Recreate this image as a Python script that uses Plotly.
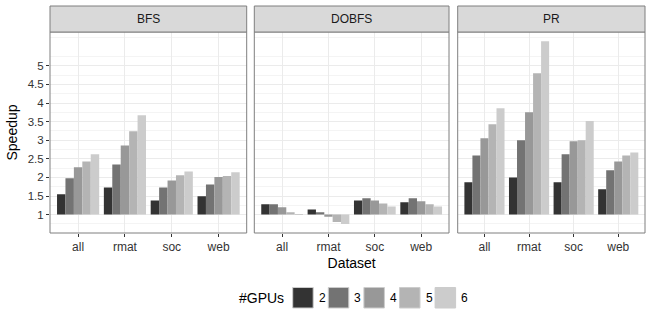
import plotly.graph_objects as go
from plotly.subplots import make_subplots

panels = ["BFS", "DOBFS", "PR"]
datasets = ["all", "rmat", "soc", "web"]
gpus = ["2", "3", "4", "5", "6"]
colors = ["#333333", "#737373", "#989898", "#B4B4B4", "#CCCCCC"]

# values per dataset (all, rmat, soc, web), one list per GPU count
bfs = [
    [1.55, 1.73, 1.38, 1.49],
    [1.98, 2.35, 1.73, 1.81],
    [2.27, 2.86, 1.92, 2.01],
    [2.43, 3.24, 2.06, 2.04],
    [2.62, 3.67, 2.16, 2.14],
]
dobfs = [
    [1.28, 1.14, 1.38, 1.33],
    [1.28, 1.06, 1.44, 1.44],
    [1.20, 0.94, 1.38, 1.36],
    [1.06, 0.80, 1.30, 1.28],
    [1.01, 0.75, 1.22, 1.22],
]
pr = [
    [1.87, 2.00, 1.87, 1.68],
    [2.59, 3.00, 2.62, 2.19],
    [3.05, 3.75, 2.97, 2.43],
    [3.43, 4.80, 3.00, 2.59],
    [3.86, 5.66, 3.52, 2.67],
]
data = [bfs, dobfs, pr]
y_ticks = [1, 1.5, 2, 2.5, 3, 3.5, 4, 4.5, 5]
y_tick_labels = ["1", "1.5", "2", "2.5", "3", "3.5", "4", "4.5", "5"]

W, H = 648, 311
ml, mr, mt, mb = 50, 3, 32, 78
pw, ph = W - ml - mr, H - mt - mb

def px_x(p):
    return (p - ml) / pw

def px_y(p):
    return (H - mb - p) / ph

domains = [[0, px_x(246.7)], [px_x(254.3), px_x(449)], [px_x(457.7), 1]]

fig = make_subplots(rows=1, cols=3, shared_yaxes=True, horizontal_spacing=0.02)

for pi, pdata in enumerate(data):
    for gi, vals in enumerate(pdata):
        fig.add_trace(
            go.Bar(
                x=datasets,
                y=[v - 1 for v in vals],
                base=1,
                marker=dict(color=colors[gi], line=dict(width=0)),
                name=gpus[gi],
                showlegend=False,
                offsetgroup=str(gi),
            ),
            row=1, col=pi + 1,
        )

fig.update_layout(
    width=W, height=H,
    margin=dict(l=ml, r=mr, t=mt, b=mb),
    plot_bgcolor="white", paper_bgcolor="white",
    barmode="group", bargap=0.1, bargroupgap=0,
    font=dict(family="Liberation Sans, Arial, sans-serif", color="#4d4d4d"),
)

shapes = []
annotations = []
for i in range(3):
    xa = "xaxis" if i == 0 else f"xaxis{i+1}"
    ya = "yaxis" if i == 0 else f"yaxis{i+1}"
    fig.layout[xa].update(
        domain=domains[i], range=[-0.6, 3.6],
        showgrid=True, gridcolor="#ebebeb", gridwidth=1,
        ticks="outside", ticklen=3, tickcolor="#333333",
        tickfont=dict(size=12, color="#333333"),
        showline=False, zeroline=False,
    )
    fig.layout[ya].update(
        range=[0.505, 5.91],
        tickvals=y_ticks, ticktext=y_tick_labels,
        showgrid=True, gridcolor="#ebebeb", gridwidth=1,
        minor=dict(tick0=0.75, dtick=0.5, showgrid=True, gridcolor="#f4f4f4", gridwidth=0.6, ticks=""),
        ticks="outside" if i == 0 else "", ticklen=3, tickcolor="#333333",
        showticklabels=(i == 0),
        tickfont=dict(size=11.5, color="#333333"),
        zeroline=False, showline=False,
    )
    x0, x1 = domains[i]
    shapes.append(dict(type="rect", xref="paper", yref="paper", x0=x0, x1=x1, y0=0, y1=1,
                       line=dict(color="#7f7f7f", width=1), fillcolor="rgba(0,0,0,0)", layer="above"))
    shapes.append(dict(type="rect", xref="paper", yref="paper", x0=x0, x1=x1, y0=1, y1=px_y(6),
                       line=dict(color="#7f7f7f", width=1), fillcolor="#d9d9d9", layer="above"))
    annotations.append(dict(text=panels[i], xref="paper", yref="paper", x=(x0 + x1) / 2,
                            y=(1 + px_y(6)) / 2, showarrow=False, xanchor="center", yanchor="middle",
                            font=dict(size=12, color="#1a1a1a")))

fig.update_xaxes(title_text="Dataset", title_font=dict(size=14, color="#000000"), title_standoff=4, row=1, col=2)
fig.update_yaxes(title_text="Speedup", title_font=dict(size=14, color="#000000"), title_standoff=6, row=1, col=1)

annotations.append(dict(text="#GPUs", xref="paper", yref="paper", x=px_x(286), y=px_y(298),
                        xanchor="right", yanchor="middle", showarrow=False,
                        font=dict(size=14, color="#000000")))
key_left = [292.7, 328.3, 363.9, 399.5, 435.1]
for gi in range(5):
    kl = key_left[gi]
    shapes.append(dict(type="rect", xref="paper", yref="paper", x0=px_x(kl), x1=px_x(kl + 20.5),
                       y0=px_y(308), y1=px_y(287.5), fillcolor=colors[gi],
                       line=dict(color="#cccccc", width=1)))
    annotations.append(dict(text=gpus[gi], xref="paper", yref="paper", x=px_x(kl + 24), y=px_y(298),
                            xanchor="left", yanchor="middle", showarrow=False,
                            font=dict(size=12, color="#000000")))

fig.update_layout(shapes=shapes, annotations=annotations)
fig.write_html("out.html", config={"displayModeBar": False},
               post_script="document.body.style.margin='0';")
